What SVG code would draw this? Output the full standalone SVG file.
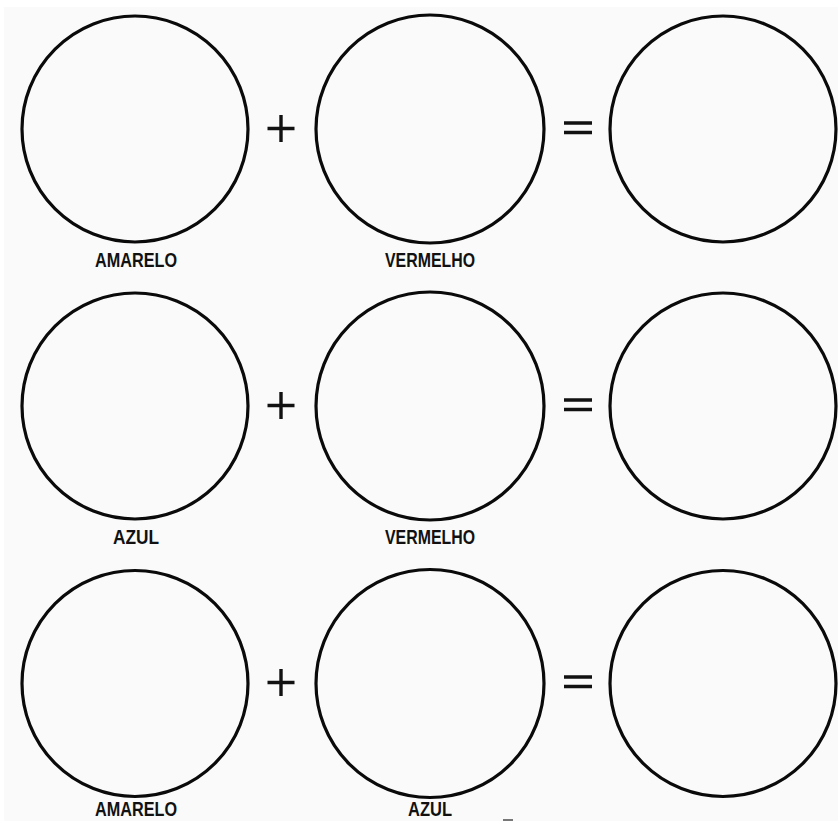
<svg xmlns="http://www.w3.org/2000/svg" width="838" height="821" viewBox="0 0 838 821">
<style>
.c{fill:none;stroke:#0a0a0a;stroke-width:3.2}
.op{stroke:#111;stroke-width:3.4;fill:none}
.t{font-family:"Liberation Sans",Arial,sans-serif;font-weight:bold;font-size:20.5px;fill:#111;text-anchor:middle}
</style>
<rect width="838" height="821" fill="#ffffff"/>
<rect x="4" y="7" width="834" height="814" fill="#fafafa"/>
<g id="row1">
<g id="r1c1"><circle class="c" cx="135" cy="129" r="113"/><text class="t" x="136" y="267" textLength="82" lengthAdjust="spacingAndGlyphs">AMARELO</text></g>
<g id="r1plus"><path class="op" d="M267.5 128.5H294.5M281 115V142"/></g>
<g id="r1c2"><circle class="c" cx="430" cy="129" r="114"/><text class="t" x="430" y="267" textLength="90" lengthAdjust="spacingAndGlyphs">VERMELHO</text></g>
<g id="r1eq"><path class="op" d="M564 123H592M564 132.5H592"/></g>
<g id="r1c3"><circle class="c" cx="723" cy="129" r="113"/></g>
</g>
<g id="row2">
<g id="r2c1"><circle class="c" cx="135" cy="406" r="113"/><text class="t" x="136" y="544" textLength="46" lengthAdjust="spacingAndGlyphs">AZUL</text></g>
<g id="r2plus"><path class="op" d="M267.5 405.5H294.5M281 392V419"/></g>
<g id="r2c2"><circle class="c" cx="430" cy="406" r="114"/><text class="t" x="430" y="544" textLength="90" lengthAdjust="spacingAndGlyphs">VERMELHO</text></g>
<g id="r2eq"><path class="op" d="M564 400H592M564 409.5H592"/></g>
<g id="r2c3"><circle class="c" cx="723" cy="406" r="113"/></g>
</g>
<g id="row3">
<g id="r3c1"><circle class="c" cx="135" cy="683.5" r="113"/><text class="t" x="136" y="816" textLength="82" lengthAdjust="spacingAndGlyphs">AMARELO</text></g>
<g id="r3plus"><path class="op" d="M267.5 682.5H294.5M281 669V696"/></g>
<g id="r3c2"><circle class="c" cx="430" cy="683.5" r="114"/><text class="t" x="430" y="816" textLength="44" lengthAdjust="spacingAndGlyphs">AZUL</text></g>
<g id="r3eq"><path class="op" d="M564 677H592M564 686.5H592"/></g>
<g id="r3c3"><circle class="c" cx="723" cy="683.5" r="113"/></g>
</g>
<rect x="503" y="819" width="10" height="2" fill="#777"/>
</svg>
